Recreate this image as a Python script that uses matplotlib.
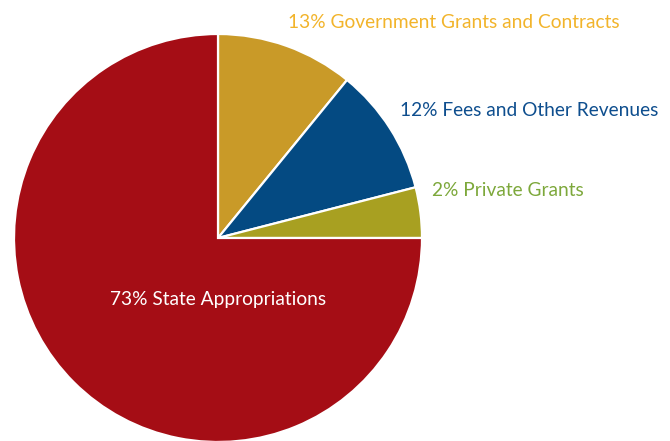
import matplotlib.pyplot as plt

# slice sizes as drawn (labels carry the published percentages)
labels = ["13% Government Grants and Contracts", "12% Fees and Other Revenues",
          "2% Private Grants", "73% State Appropriations"]
sizes = [10.9, 10.1, 4.0, 75.0]
colors = ["#C99A28", "#044A82", "#A8A021", "#A50D15"]
text_colors = ["#F2B42B", "#0E4E8E", "#7DA83B", "#FFFFFF"]

fig = plt.figure(figsize=(6.7, 4.41), dpi=100)
ax = fig.add_axes([0, 0, 1, 1])

ax.pie(sizes, colors=colors, startangle=90, counterclock=False,
       center=(218, 203), radius=204,
       wedgeprops=dict(edgecolor="white", linewidth=1.6))
ax.set_xlim(0, 670)
ax.set_ylim(0, 441)
ax.set_aspect("equal")
ax.axis("off")

font = "Lato"
fs = 13.8
ax.text(288, 441 - 22, labels[0], color=text_colors[0], fontsize=fs,
        family=font, va="center", ha="left")
ax.text(400, 441 - 110, labels[1], color=text_colors[1], fontsize=fs,
        family=font, va="center", ha="left")
ax.text(432, 441 - 191, labels[2], color=text_colors[2], fontsize=fs,
        family=font, va="center", ha="left")
ax.text(218, 441 - 300, labels[3], color=text_colors[3], fontsize=fs,
        family=font, va="center", ha="center")

fig.savefig("out.png", dpi=100)
